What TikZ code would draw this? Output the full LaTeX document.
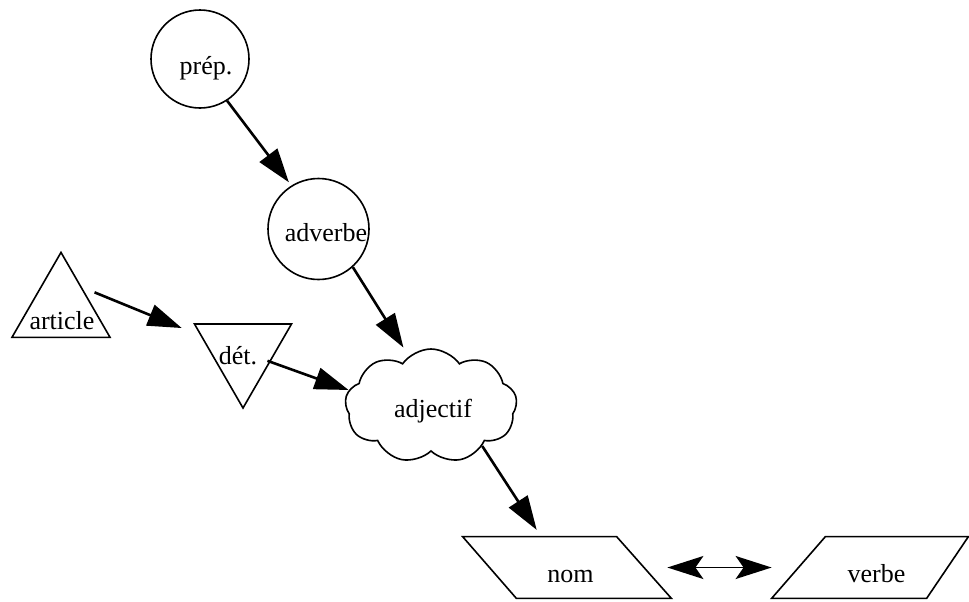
\documentclass[tikz,border=0pt]{standalone}
\usepackage{fontspec}
\setmainfont{Liberation Serif}
\usetikzlibrary{shapes.geometric, shapes.symbols, arrows.meta}
\tikzstyle{bubble} = [circle, draw=black, line width=0.8pt, inner sep=0pt]
\tikzstyle{tri} = [regular polygon, regular polygon sides=3, draw=black, line width=0.8pt, inner sep=0pt]
\tikzstyle{puff} = [cloud, cloud puffs=9, cloud puff arc=110, cloud ignores aspect, draw=black, line width=0.8pt, inner sep=0pt]
\tikzstyle{plate} = [rectangle, inner sep=0pt, minimum height=30.5pt]
\tikzstyle{outline} = [draw=black, line width=0.8pt, line join=miter]
\tikzstyle{word} = [font=\fontsize{13}{15}\selectfont, inner sep=0pt]
\tikzstyle{arrow} = [line width=1.3pt, -{Triangle[length=17pt,width=11pt]}]
\tikzstyle{twoway} = [line width=0.9pt, {Stealth[length=18pt,width=11.5pt,inset=4pt]}-{Stealth[length=18pt,width=11.5pt,inset=4pt]}]

\begin{document}
\begin{tikzpicture}[x=0.5pt, y=-0.5pt]
\useasboundingbox (0,0) rectangle (969,601);

% Nodes
\node (prep) [bubble, minimum size=49pt, label={[word, xshift=3pt, yshift=-4.5pt]center:prép.}] at (200,59) {};
\node (adverbe) [bubble, minimum size=50.5pt, label={[word, xshift=3.75pt, yshift=-1.75pt]center:adverbe}] at (318.5,229) {};
\node (article) [tri, minimum size=56.6pt, label={[word, xshift=0.5pt, yshift=-5.75pt]center:article}] at (61,309) {};
\node (det) [tri, shape border rotate=180, minimum size=56pt, label={[word, xshift=-2.5pt, yshift=-1.75pt]center:dét.}] at (243,352) {};
\node (adjectif) [puff, minimum width=86pt, minimum height=57pt, label={[word, xshift=1pt, yshift=-2.5pt]center:adjectif}] at (431,406) {};
\node (nom) [plate, minimum width=104pt, label={[word, xshift=1.75pt, yshift=-4.5pt]center:nom}] at (567,567.5) {};
\node (verbe) [plate, minimum width=98pt, label={[word, xshift=3.25pt, yshift=-3.25pt]center:verbe}] at (870,567.5) {};

% Slanted outlines
\draw [outline] (nom.north west) -- ++(154,0) -- (nom.south east) -- ++(-155,0) -- cycle;
\draw [outline] (verbe.south west) -- ++(155,0) -- (verbe.north east) -- ++(-143,0) -- cycle;

% Arrows
\draw [arrow, shorten >=2pt] (prep.303) -- (adverbe.122);
\draw [arrow, shorten >=5pt] (adverbe.312) -- (adjectif.114);
\draw [arrow, shorten <=6.75pt, shorten >=10pt] (article.46) -- (det.159);
\draw [arrow, shorten <=13pt] (det.center) -- (adjectif.169);
\draw [arrow, shorten >=4pt] (adjectif.322) -- (nom.130);
\draw [twoway, shorten <=-2pt] (nom.east) -- (verbe.west);

\end{tikzpicture}
\end{document}
